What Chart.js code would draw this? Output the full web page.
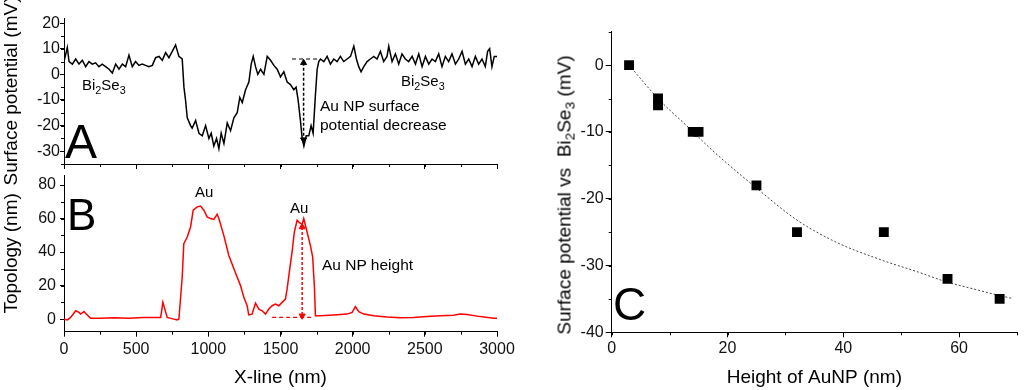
<!DOCTYPE html>
<html>
<head>
<meta charset="utf-8">
<script src="https://cdn.jsdelivr.net/npm/chart.js@4.4.0/dist/chart.umd.min.js"></script>
<style>
  body { margin: 0; background: #fff; }
  #wrap { position: relative; width: 1024px; height: 390px; overflow: hidden; font-family: 'Liberation Sans', Arial, sans-serif; color: #000; }
  canvas { position: absolute; }
  .t { position: absolute; white-space: nowrap; line-height: 1; }
  .s { position: relative; top: 4px; font-size: 0.72em; }
</style>
</head>
<body>
<div id="wrap">
  <canvas id="chartA" width="540" height="185" style="left:0;top:0"></canvas>
  <canvas id="chartB" width="540" height="220" style="left:0;top:170px"></canvas>
  <canvas id="chartC" width="484" height="390" style="left:540px;top:0"></canvas>

  <div class="t" style="left:65px;top:118px;font-size:48px">A</div>
  <div class="t" style="left:67px;top:193px;font-size:44px">B</div>
  <div class="t" style="left:613px;top:281px;font-size:46px">C</div>

  <div class="t" style="left:82px;top:77px;font-size:15px">Bi<span class="s">2</span>Se<span class="s">3</span></div>
  <div class="t" style="left:401px;top:73px;font-size:15px">Bi<span class="s">2</span>Se<span class="s">3</span></div>
  <div class="t" style="left:320px;top:98px;font-size:15.5px">Au NP surface</div>
  <div class="t" style="left:320px;top:117px;font-size:15.5px">potential decrease</div>

  <div class="t" style="left:195px;top:184px;font-size:15px">Au</div>
  <div class="t" style="left:290px;top:200px;font-size:15px">Au</div>
  <div class="t" style="left:322px;top:257px;font-size:15.5px">Au NP height</div>

  <div class="t" style="left:564px;top:195px;font-size:19px;transform:translate(-50%,-50%) rotate(-90deg)">Surface potential vs&nbsp; Bi<span class="s">2</span>Se<span class="s">3</span> (mV)</div>
</div>
<script>
// --- panel A: surface potential along the line (mV) ---
const lineA = [0,23,35,58,81,104,127,150,173,196,219,242,265,288,312,335,358,381,404,427,450,473,496,519,542,565,588,612,635,658,681,704,727,750,773,796,819,831,842,854,877,888,912,935,958,981,1004,1020,1038,1057,1073,1089,1108,1131,1154,1177,1200,1218,1235,1258,1281,1297,1311,1327,1343,1362,1385,1408,1431,1454,1477,1500,1523,1546,1569,1592,1608,1622,1638,1650,1662,1678,1696,1712,1726,1742,1754,1765,1777,1800,1823,1846,1869,1892,1915,1938,1962,1985,2008,2026,2042,2058,2077,2100,2123,2146,2169,2192,2215,2238,2250,2273,2296,2319,2342,2365,2388,2412,2435,2458,2481,2504,2527,2550,2573,2596,2619,2642,2665,2688,2712,2735,2758,2781,2804,2827,2850,2873,2896,2919,2935,2949,2965,2981,3000];
const potA = [5,10.5,5,4,6,4,5.5,3,5,4,4.5,3,4,3,2,0.5,4,2,4,3,7.5,3,5,3.5,4,3.5,3,3.5,6.5,7,5.5,8.5,6.5,9,11.5,7,6,-5,-10,-17,-20,-21,-18,-23,-24,-20,-25,-23,-28,-25,-29,-23,-27,-19,-22,-17,-15,-9,-11,-6,-3,4,7,3,0,2,0,7,5.5,3.5,2,-1,1,-3,-4,-6,-5,-10,-18,-25,-28,-24,-24,-20,-23,-8,2,5,6,5,7,4,6,5,7,5,6,7,11,6,3,1,3,5,6,7,6,9,5,7,11,5,8,4,8,6,5,7,4,8,3,7,4,6,5,8,3,7,5,8,4,6,9,4,6,3,7,4,6,3,9,10,3,7,7];

// --- panel B: topology along the line (nm) ---
const lineB = [0,23,46,81,104,115,138,161,185,254,350,450,550,670,685,715,761,785,796,819,830,854,877,895,923,946,969,992,1015,1038,1061,1073,1107,1142,1177,1200,1223,1246,1269,1280,1303,1327,1350,1373,1396,1419,1442,1465,1488,1511,1534,1546,1564,1580,1596,1615,1631,1650,1661,1684,1707,1723,1735,1742,1776,1869,1961,1996,2019,2042,2077,2146,2238,2330,2422,2515,2607,2699,2745,2792,2884,2977,3000];
const topoB = [0,-0.5,1,5,4,3,4.5,2.5,0.5,0.5,0.8,0.6,1,1,10,1,0,-0.5,0,25,45,49,55,65,67,67.5,65,61,60,59.5,62.5,60,50,38,30,25,20,13,8,2.5,3,9.5,6,5,3,6,8,9,8,10,12,18,30,40,52,59,57.5,56.5,60,52,44,37,19,2,2,2.5,3,4,7.5,4.5,3,2,1.3,0.8,1,1.5,2,2.3,3,2.8,1.5,0.5,0.5];

// --- annotation markers (data units) ---
const dropLevelX = [1580, 1765], dropLevelY = [6, 6];
const dropArrowX = [1660, 1660], dropArrowY = [4.5, -25.5];
const baseLevelX = [1442, 1730], baseLevelY = [1, 1];
const heightArrowX = [1650, 1650], heightArrowY = [55, 2];

// --- panel C: potential vs particle height ---
const heightC = [3, 8, 8, 14, 15, 25, 32, 47, 58, 67];
const potC = [0, -5, -6, -10, -10, -18, -25, -25, -32, -35];
const fitX = [3, 8, 13.6, 17.3, 25, 32, 39, 47, 53, 58, 62, 67, 69];
const fitY = [0, -5, -9.6, -12.7, -18.4, -23.2, -26.6, -29.3, -31, -32.5, -33.4, -34.5, -34.9];

const FONT = "'Liberation Sans', Arial, sans-serif";
const pts = (xs, ys) => xs.map((x, i) => ({ x: x, y: ys[i] }));
const plain = v => String(v);

function fixW(w) {
    return s => { s.width = w; s.paddingTop = 0; s.paddingBottom = 0; s.paddingLeft = 0; s.paddingRight = 0; };
}
function fixH(h) {
    return s => { s.height = h; s.paddingTop = 0; s.paddingBottom = 0; s.paddingLeft = 0; s.paddingRight = 0; };
}

// short ticks between the major ones
function minorTicks(steps) {
    return {
        id: 'minorTicks',
        afterDraw(chart) {
            const ctx = chart.ctx;
            ctx.save();
            ctx.strokeStyle = '#000';
            ctx.lineWidth = 1;
            ctx.beginPath();
            for (const id in steps) {
                const s = chart.scales[id], st = steps[id];
                for (let v = Math.ceil(s.min / st) * st; v <= s.max + 1e-9; v += st) {
                    const p = Math.round(s.getPixelForValue(v)) + 0.5;
                    if (s.isHorizontal()) { ctx.moveTo(p, s.top); ctx.lineTo(p, s.top + 3); }
                    else { ctx.moveTo(s.right, p); ctx.lineTo(s.right - 3, p); }
                }
            }
            ctx.stroke();
            ctx.restore();
        }
    };
}

const axisCommon = (tickLen) => ({
    grid: { drawOnChartArea: false, drawTicks: true, tickLength: tickLen, color: '#000', lineWidth: 1 },
    border: { display: true, color: '#000', width: 1 }
});
const tickFont = { family: FONT, size: 16 };
const titleFont = { family: FONT, size: 19 };
const baseOpts = {
    responsive: false, animation: false,
    plugins: { legend: { display: false }, tooltip: { enabled: false } }
};

// --- Chart A ---
new Chart(document.getElementById('chartA'), {
    type: 'line',
    data: { datasets: [
        { data: pts(dropArrowX, dropArrowY), borderColor: '#000', borderWidth: 1.5, borderDash: [3, 2],
          pointStyle: 'triangle', pointRadius: 3.5, pointRotation: [0, 180], pointBackgroundColor: '#000', pointBorderColor: '#000', pointBorderWidth: 1 },
        { data: pts(dropLevelX, dropLevelY), borderColor: '#000', borderWidth: 1.2, borderDash: [4, 3], pointRadius: 0 },
        { data: pts(lineA, potA), borderColor: '#000', borderWidth: 1.5, pointRadius: 0, tension: 0 }
    ]},
    options: Object.assign({}, baseOpts, {
        layout: { padding: { top: 18, right: 43, bottom: 15, left: 0 } },
        scales: {
            x: Object.assign(axisCommon(5), { type: 'linear', min: 0, max: 3000,
                ticks: { display: false, stepSize: 500, includeBounds: false }, afterFit: fixH(6) }),
            y: Object.assign(axisCommon(4), { min: -35, max: 22,
                ticks: { stepSize: 10, includeBounds: false, font: tickFont, color: '#111', padding: 0, callback: plain },
                title: { display: true, text: 'Surface potential (mV)', font: titleFont, color: '#000', padding: { top: 0, bottom: 0 } },
                afterFit: fixW(64) })
        }
    }),
    plugins: [minorTicks({ x: 250, y: 5 })]
});

// --- Chart B ---
new Chart(document.getElementById('chartB'), {
    type: 'line',
    data: { datasets: [
        { data: pts(heightArrowX, heightArrowY), borderColor: '#ff0000', borderWidth: 1.5, borderDash: [3, 2],
          pointStyle: 'triangle', pointRadius: 3.5, pointRotation: [0, 180], pointBackgroundColor: '#ff0000', pointBorderColor: '#ff0000', pointBorderWidth: 1 },
        { data: pts(baseLevelX, baseLevelY), borderColor: '#ff0000', borderWidth: 1.2, borderDash: [4, 3], pointRadius: 0 },
        { data: pts(lineB, topoB), borderColor: '#ff0000', borderWidth: 1.5, pointRadius: 0, tension: 0 }
    ]},
    options: Object.assign({}, baseOpts, {
        layout: { padding: { top: 5, right: 43, bottom: 1.2, left: 0 } },
        scales: {
            x: Object.assign(axisCommon(5), { type: 'linear', min: 0, max: 3000,
                ticks: { stepSize: 500, includeBounds: false, font: tickFont, color: '#111', padding: 3, maxRotation: 0, callback: plain },
                title: { display: true, text: 'X-line (nm)', font: titleFont, color: '#000', padding: { top: 0, bottom: 0 } },
                afterFit: fixH(57.1) }),
            y: Object.assign(axisCommon(4), { min: -7.5, max: 86,
                ticks: { stepSize: 20, includeBounds: false, font: tickFont, color: '#111', padding: 4, callback: plain },
                title: { display: true, text: 'Topology (nm)', font: titleFont, color: '#000', padding: { top: 0, bottom: 0 } },
                afterFit: fixW(64) })
        }
    }),
    plugins: [minorTicks({ x: 250, y: 10 })]
});

// --- Chart C ---
new Chart(document.getElementById('chartC'), {
    type: 'line',
    data: { datasets: [
        { data: pts(heightC, potC), showLine: false, pointStyle: 'rect', pointRadius: 7,
          pointBackgroundColor: '#000', pointBorderColor: '#000', pointBorderWidth: 0 },
        { data: pts(fitX, fitY), borderColor: '#444', borderWidth: 1, borderDash: [2, 2], pointRadius: 0,
          cubicInterpolationMode: 'monotone' }
    ]},
    options: Object.assign({}, baseOpts, {
        layout: { padding: { top: 31.7, right: 1.7, bottom: 1.2, left: 0 } },
        scales: {
            x: Object.assign(axisCommon(5), { type: 'linear', min: 0, max: 70,
                ticks: { stepSize: 20, includeBounds: false, font: tickFont, color: '#111', padding: 2, maxRotation: 0, callback: plain },
                title: { display: true, text: 'Height of AuNP (nm)', font: titleFont, color: '#000', padding: { top: 0, bottom: 0 } },
                afterFit: fixH(56.5) }),
            y: Object.assign(axisCommon(6), { min: -40, max: 5,
                ticks: { stepSize: 10, includeBounds: false, font: tickFont, color: '#111', padding: 2, callback: plain },
                afterFit: fixW(71.7) })
        }
    }),
    plugins: [minorTicks({ x: 10, y: 5 })]
});
</script>
</body>
</html>
